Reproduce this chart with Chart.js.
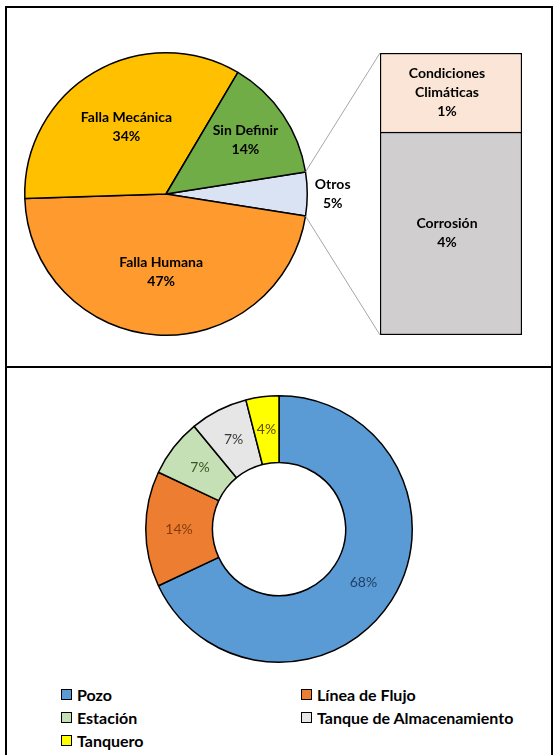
<!DOCTYPE html>
<html>
<head>
<meta charset="utf-8">
<script src="https://cdn.jsdelivr.net/npm/chart.js@4"></script>
<style>
  body { margin: 0; background: #fff; font-family: Lato, sans-serif; }
  #page { position: relative; width: 556px; height: 755px; overflow: hidden; }
  .frame { position: absolute; left: 5px; top: 6px; width: 548px; height: 800px; border: 2px solid #000; box-sizing: border-box; }
  .divider { position: absolute; left: 5px; top: 366px; width: 548px; height: 2px; background: #000; }
  canvas { position: absolute; }
  #legend { position: absolute; left: 61px; top: 683px; width: 480px; font: bold 16px Lato, sans-serif; color: #000; }
  #legend .item { position: absolute; display: flex; align-items: center; white-space: nowrap; height: 22px; }
  #legend .box { width: 9px; height: 9px; border: 1.5px solid #000; margin-right: 5px; }
</style>
</head>
<body>
<div id="page">
  <div class="frame"></div>
  <div class="divider"></div>
  <canvas id="pieChart" width="340" height="300" style="left:16px;top:44px"></canvas>
  <canvas id="barChart" width="250" height="310" style="left:290px;top:40px"></canvas>
  <canvas id="donutChart" width="300" height="300" style="left:129px;top:379px"></canvas>
  <div id="legend"></div>
</div>
<script>
// top chart: causes
const causeLabels = ['Otros', 'Falla Humana', 'Falla Mecánica', 'Sin Definir'];
const causeValues = [5, 47, 34, 14];
const causeColors = ['#DAE3F3', '#FF9A2E', '#FFC000', '#70AD47'];

// breakdown of "Otros"
const otherLabels = ['Corrosión', 'Condiciones Climáticas'];
const otherValues = [3.6, 1.4];
const otherColors = ['#D0CECE', '#FBE5D6'];

// bottom chart: location
const placeLabels = ['Pozo', 'Línea de Flujo', 'Estación', 'Tanque de Almacenamiento', 'Tanquero'];
const placeValues = [68, 14, 7, 7, 4];
const placeColors = ['#5B9BD5', '#ED7D31', '#C5E0B4', '#E7E6E6', '#FFFF00'];
const placeTextColors = ['#1F3F66', '#843C0C', '#385723', '#3A3838', '#5F4A00'];

const boldFont = 'bold 14px Lato, sans-serif';

function drawLines(ctx, lines, x, y, lineH) {
    const start = y - (lines.length - 1) * lineH / 2;
    lines.forEach((t, i) => ctx.fillText(t, x, start + i * lineH));
}

// labels inside / next to the pie slices
const pieLabels = {
    id: 'pieLabels',
    afterDatasetsDraw(chart) {
        const ctx = chart.ctx;
        const meta = chart.getDatasetMeta(0);
        const total = causeValues.reduce((a, b) => a + b, 0);
        ctx.save();
        ctx.font = boldFont;
        ctx.fillStyle = '#000';
        ctx.textAlign = 'center';
        ctx.textBaseline = 'middle';
        meta.data.forEach((arc, i) => {
            const mid = (arc.startAngle + arc.endAngle) / 2;
            const pct = causeValues[i] / total * 100;
            // small slices get the label further out, tiny ones outside the pie
            let f = 0.55;
            if (pct < 20) f = 0.68;
            if (pct < 8) f = 1.18;
            const r = arc.outerRadius * f;
            const x = arc.x + Math.cos(mid) * r;
            const y = arc.y + Math.sin(mid) * r;
            drawLines(ctx, [causeLabels[i], Math.round(pct) + '%'], x, y, 19);
        });
        ctx.restore();
    }
};

const pieChart = new Chart(document.getElementById('pieChart'), {
    type: 'pie',
    data: {
        labels: causeLabels,
        datasets: [{
            data: causeValues,
            backgroundColor: causeColors,
            borderColor: '#000',
            borderWidth: 1.5
        }]
    },
    options: {
        responsive: false,
        animation: false,
        rotation: 90 - causeValues[0] / 2 * 3.6,
        layout: { padding: { left: 8, right: 48, top: 8, bottom: 8 } },
        plugins: { legend: { display: false }, tooltip: { enabled: false } },
        events: []
    },
    plugins: [pieLabels]
});

// bar labels + connector lines back to the "Otros" slice
const barExtras = {
    id: 'barExtras',
    afterDatasetsDraw(chart) {
        const ctx = chart.ctx;
        const area = chart.chartArea;
        ctx.save();
        // connectors
        const arc = pieChart.getDatasetMeta(0).data[0];
        const pc = pieChart.canvas, bc = chart.canvas;
        const dx = pc.offsetLeft - bc.offsetLeft;
        const dy = pc.offsetTop - bc.offsetTop;
        const r = arc.outerRadius;
        const p1 = [arc.x + dx + Math.cos(arc.startAngle) * r, arc.y + dy + Math.sin(arc.startAngle) * r];
        const p2 = [arc.x + dx + Math.cos(arc.endAngle) * r, arc.y + dy + Math.sin(arc.endAngle) * r];
        ctx.strokeStyle = '#A6A6A6';
        ctx.lineWidth = 1;
        ctx.beginPath();
        ctx.moveTo(p1[0], p1[1]);
        ctx.lineTo(area.left, area.top);
        ctx.moveTo(p2[0], p2[1]);
        ctx.lineTo(area.left, area.bottom);
        ctx.stroke();
        // labels
        ctx.font = boldFont;
        ctx.fillStyle = '#000';
        ctx.textAlign = 'center';
        ctx.textBaseline = 'middle';
        chart.data.datasets.forEach((ds, i) => {
            const bar = chart.getDatasetMeta(i).data[0];
            const c = bar.getCenterPoint();
            const lines = ds.label.split(' ').concat(Math.round(ds.data[0]) + '%');
            drawLines(ctx, lines, c.x - 4, c.y, 19);
        });
        ctx.restore();
    }
};

new Chart(document.getElementById('barChart'), {
    type: 'bar',
    data: {
        labels: ['Otros'],
        datasets: otherLabels.map((name, i) => ({
            label: name,
            data: [otherValues[i]],
            backgroundColor: otherColors[i],
            borderColor: '#000',
            borderWidth: 1.5,
            // upper segment shares its bottom edge with the lower one
            borderSkipped: i > 0 ? 'bottom' : false,
            barPercentage: 1,
            categoryPercentage: 1
        }))
    },
    options: {
        responsive: false,
        animation: false,
        layout: { padding: { left: 90, right: 18, top: 13, bottom: 15 } },
        scales: {
            x: { stacked: true, display: false },
            y: { stacked: true, display: false, min: 0, max: otherValues.reduce((a, b) => a + b, 0) }
        },
        plugins: { legend: { display: false }, tooltip: { enabled: false } },
        events: []
    },
    plugins: [barExtras]
});

// percentage labels on the doughnut
const donutLabels = {
    id: 'donutLabels',
    afterDatasetsDraw(chart) {
        const ctx = chart.ctx;
        const total = placeValues.reduce((a, b) => a + b, 0);
        ctx.save();
        ctx.font = '14px Lato, sans-serif';
        ctx.textAlign = 'center';
        ctx.textBaseline = 'middle';
        chart.getDatasetMeta(0).data.forEach((arc, i) => {
            const p = arc.getCenterPoint();
            ctx.fillStyle = placeTextColors[i];
            ctx.fillText(Math.round(placeValues[i] / total * 100) + '%', p.x, p.y);
        });
        ctx.restore();
    }
};

const donut = new Chart(document.getElementById('donutChart'), {
    type: 'doughnut',
    data: {
        labels: placeLabels,
        datasets: [{
            data: placeValues,
            backgroundColor: placeColors,
            borderColor: '#000',
            borderWidth: 1.5
        }]
    },
    options: {
        responsive: false,
        animation: false,
        cutout: '50%',
        layout: { padding: 16 },
        plugins: { legend: { display: false }, tooltip: { enabled: false } },
        events: []
    },
    plugins: [donutLabels]
});

// two-column legend from the chart's own labels
const legendEl = document.getElementById('legend');
donut.options.plugins.legend.labels.generateLabels(donut).forEach((item, i) => {
    const div = document.createElement('div');
    div.className = 'item';
    div.style.left = (i % 2 ? 240 : 0) + 'px';
    div.style.top = Math.floor(i / 2) * 23 + 'px';
    const box = document.createElement('span');
    box.className = 'box';
    box.style.background = item.fillStyle;
    div.appendChild(box);
    div.appendChild(document.createTextNode(item.text));
    legendEl.appendChild(div);
});
</script>
</body>
</html>
